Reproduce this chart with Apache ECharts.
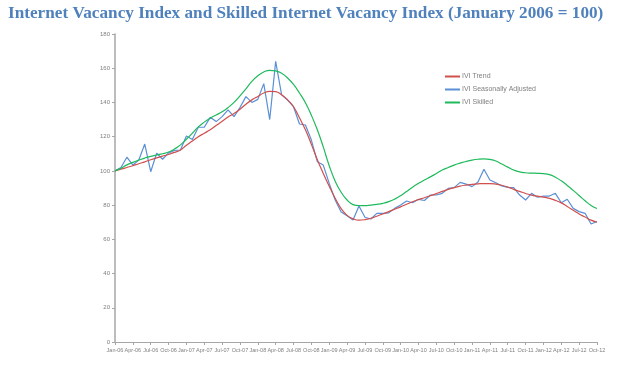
<!DOCTYPE html>
<html><head><meta charset="utf-8">
<script src="https://cdn.jsdelivr.net/npm/echarts@6/dist/echarts.min.js"></script>
<style>html,body{margin:0;padding:0;background:#fff}#c{width:617px;height:366px}</style>
</head><body><div id="c"></div>
<script>
const monthNames = ['Jan','Feb','Mar','Apr','May','Jun','Jul','Aug','Sep','Oct','Nov','Dec'];
const years = ['06','07','08','09','10','11','12'];
const categories = [];
for (const y of years) for (const m of monthNames) categories.push(m + '-' + y);
categories.splice(82);

const ivtTrend = [100,101,102,103,104.2,105.3,106.5,107.6,108.6,109.6,110.8,112.2,
  115,117.5,120,122,124,126.5,129,131.5,133.5,136,139,141.5,
  143.5,145.5,146.5,146.3,144.5,141.5,137.5,131,124,115.5,106.5,98.5,
  91,84,78,74,72,71.2,71.5,72.3,73.5,74.8,76.2,77.6,
  79,80.5,82,83.2,84.3,85.5,86.7,88,89.2,90.2,91.1,91.7,
  92.1,92.4,92.6,92.6,92.3,91.6,90.5,89.2,88,86.8,85.8,85.2,
  84.7,83.9,82.8,81.3,79.2,77,74.8,73,71.2,70];

const ivtSA = [100,102,108,103.4,106.4,115.7,99.5,110.3,106.8,110.5,112,112.2,
  120.4,118.4,125.5,125.5,131.3,128.8,131.7,135.6,131.7,137,143.4,140,
  141.8,151,130,164,144.4,141.4,137.5,127.4,126.8,118,105.4,103.4,
  92.7,83,76,73.8,71.3,79.5,72.9,71.9,75.2,75.2,75.5,78.1,
  80.1,82.4,81.4,83.4,82.7,85.9,85.9,86.9,89.8,90.2,93.3,92.3,
  90.8,93.5,101,94.7,93.1,91.2,90.4,90.2,85.9,83,86.9,84.6,
  85.3,85.3,86.9,81.4,83.4,78.1,76.2,75.2,69,70.4];

const ivtSkilled = [100,101.5,103.5,105,106.3,107.5,108.5,109.3,110,111,112.8,115.2,
  118.5,122,125.7,128.5,130.8,132.7,134.5,137,140,143.8,148,152.3,
  155.6,157.8,158.8,158.5,157,154.3,150.5,145.5,139.8,132.5,124,114,
  103,94,87.5,83,80.3,79.7,79.7,80,80.4,81,82,83.5,
  85.5,88,90.5,92.7,94.7,96.5,98.5,100.5,102,103.4,104.5,105.5,
  106.3,106.8,107,106.7,105.8,104,102.2,100.5,99.4,98.9,98.7,98.6,
  98.4,97.8,96.3,94.2,91.5,88.6,85.6,82.5,79.8,78];

const yTicks = {min:0, max:180, interval:20};
const seriesNames = ['IVI Trend','IVI Seasonally Adjusted','IVI Skilled'];

const chart = echarts.init(document.getElementById('c'), null, {renderer:'canvas'});
const axisGray = '#a6a6a6';
const labelGray = '#7f7f7f';
chart.setOption({
  animation:false,
  backgroundColor:'#fff',
  title:{
    text:'Internet Vacancy Index and Skilled Internet Vacancy Index (January 2006 = 100)',
    left:8, top:5, padding:0,
    textStyle:{fontFamily:'Liberation Serif', fontWeight:'bold', fontSize:17.2, color:'#4f81bd'}
  },
  legend:{
    orient:'vertical', left:445, top:73, itemGap:6, padding:0,
    itemWidth:15, itemHeight:2, icon:'rect',
    textStyle:{fontSize:7, color:'#7f7f7f', fontFamily:'Liberation Sans', padding:[0,0,0,-3]},
    data:seriesNames
  },
  grid:{left:115, right:20, top:34, bottom:24, containLabel:false},
  xAxis:{
    type:'category', data:categories, boundaryGap:false,
    axisLine:{lineStyle:{color:axisGray, width:1}},
    axisTick:{interval:2, length:3, lineStyle:{color:axisGray}},
    axisLabel:{interval:2, fontSize:5.5, color:labelGray, margin:5, fontFamily:'Liberation Sans'},
    splitLine:{show:false}
  },
  yAxis:{
    type:'value', min:yTicks.min, max:yTicks.max, interval:yTicks.interval,
    axisLine:{show:true, lineStyle:{color:axisGray, width:1.5}},
    axisTick:{show:true, length:3, inside:false, lineStyle:{color:axisGray}},
    axisLabel:{fontSize:6, color:labelGray, margin:5, fontFamily:'Liberation Sans'},
    splitLine:{show:false}
  },
  series:[
    {name:seriesNames[0], type:'line', data:ivtTrend, smooth:0.5, showSymbol:false,
     lineStyle:{color:'#d0504d', width:1.2}, itemStyle:{color:'#d0504d'}, z:3},
    {name:seriesNames[1], type:'line', data:ivtSA, smooth:false, showSymbol:false,
     lineStyle:{color:'#5b8fd6', width:1.2}, itemStyle:{color:'#5b8fd6'}, z:2},
    {name:seriesNames[2], type:'line', data:ivtSkilled, smooth:0.5, showSymbol:false,
     lineStyle:{color:'#1fba5c', width:1.2}, itemStyle:{color:'#1fba5c'}, z:4}
  ]
});
</script></body></html>
